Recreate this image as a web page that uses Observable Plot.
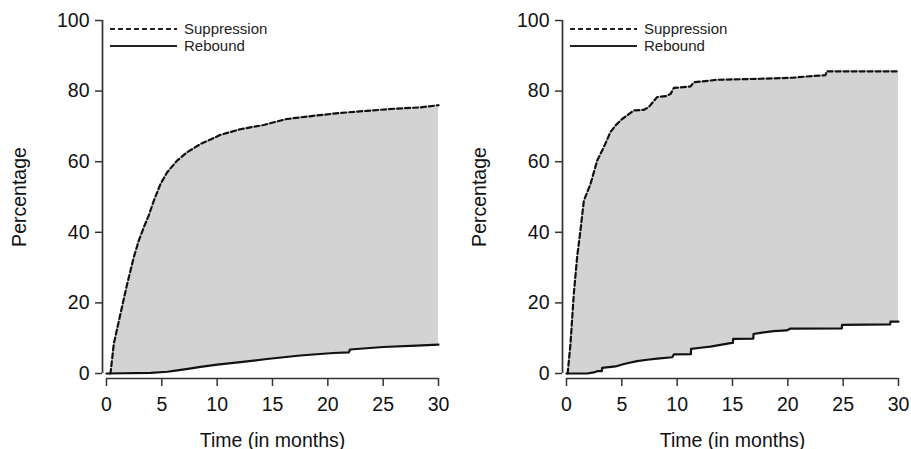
<!DOCTYPE html>
<html><head><meta charset="utf-8">
<script src="https://cdn.jsdelivr.net/npm/d3@7"></script>
<script src="https://cdn.jsdelivr.net/npm/@observablehq/plot@0.6"></script>
<style>body{margin:0;background:#fff}#c{display:flex;width:911px;height:449px}</style>
</head><body><div id="c"></div>
<script>
const xTicks = [0, 5, 10, 15, 20, 25, 30];
const yTicks = [0, 20, 40, 60, 80, 100];
const seriesNames = ["Suppression", "Rebound"];
const xLabel = "Time (in months)";
const yLabel = "Percentage";

// Left panel
const leftSuppT = [0.3,0.36,0.66,1.26,1.87,2.47,2.92,3.37,3.82,4.28,4.88,5.48,6.38,7.29,8.49,9.4,10.3,12.1,14.2,16.3,18.7,21.1,23.5,26,28.4,30];
const leftSuppP = [0,0,8.4,16.9,25.4,33,37.7,41.4,44.8,49,53.7,57,60.3,62.7,65,66.3,67.6,69.2,70.4,72.1,73.0,73.8,74.4,75,75.4,76];
const leftRebT = [0,4,5.5,6.4,7.5,8.5,10,12.1,14.5,17.5,20.5,21.9,22,25,28,30];
const leftRebP = [0,0.2,0.5,0.9,1.4,1.9,2.5,3.2,4.1,5.1,5.8,6.0,6.8,7.5,7.9,8.2];

// Right panel
const rightSuppT = [0.1,0.36,0.66,0.96,1.26,1.57,2.17,2.77,3.37,3.97,4.5,5.03,6.08,7.0,7.44,8.19,9.0,9.4,9.7,11.2,11.5,13.6,17.5,20.5,22.3,23.4,23.5,30];
const rightSuppP = [0,8.4,22.6,33,40.5,49,53.7,60.3,64.1,68.4,70.5,72.1,74.5,74.7,75.5,78.3,78.6,79.2,80.9,81.3,82.5,83.2,83.5,83.8,84.3,84.5,85.6,85.6];
const rightRebT = [0,1.87,2.47,2.77,3.2,3.22,4.43,5.03,5.48,6.38,7.29,8.19,9.55,9.7,11.24,11.26,12.1,13.0,13.9,14.8,15.04,15.06,16.88,16.9,17.5,18.7,19.9,20.2,24.88,24.9,29.25,29.27,30];
const rightRebP = [0,0,0.3,0.66,0.7,1.6,2.0,2.55,2.9,3.5,3.9,4.2,4.6,5.4,5.5,7.0,7.3,7.6,8.1,8.6,8.7,9.8,9.9,11.2,11.5,12.0,12.2,12.7,12.8,13.8,13.9,14.7,14.7];

const zip = (t, p) => t.map((d, i) => ({t: d, p: p[i]}));
const font = "'Liberation Sans', Arial, sans-serif";
const ink = "#111";
const dash = "5,3";

function legendMark(index, scales, values, dims) {
  const g = d3.create("svg:g").attr("font-family", font).attr("font-size", 15).attr("text-anchor", "start");
  const x0 = dims.marginLeft, y0 = dims.marginTop;
  [[seriesNames[0], dash, 9], [seriesNames[1], null, 26]].forEach(([lab, da, dy]) => {
    g.append("line").attr("x1", x0 + 4).attr("x2", x0 + 71).attr("y1", y0 + dy).attr("y2", y0 + dy)
      .attr("stroke", "#222").attr("stroke-width", 1.8).attr("stroke-dasharray", da);
    g.append("text").attr("x", x0 + 78).attr("y", y0 + dy).attr("dy", "0.35em").attr("fill", "#222").text(lab);
  });
  return g.node();
}

function panel({width, marginLeft, marginRight, supp, reb}) {
  return Plot.plot({
    width, height: 449, marginLeft, marginRight, marginTop: 20, marginBottom: 76,
    style: {fontFamily: font, fontSize: "19.5px", color: "#111", background: "#fff"},
    x: {domain: [0, 30]},
    y: {domain: [0, 100]},
    marks: [
      Plot.areaY(supp, {x: "t", y: "p", fill: "#d3d3d3"}),
      Plot.areaY(reb, {x: "t", y: "p", fill: "#fff"}),
      Plot.line(supp, {x: "t", y: "p", stroke: ink, strokeWidth: 2.2, strokeDasharray: dash}),
      Plot.line(reb, {x: "t", y: "p", stroke: ink, strokeWidth: 2.2}),
      Plot.ruleX([0], {y1: 0, y2: 100, dx: -4, stroke: "#333", strokeWidth: 1.7}),
      Plot.ruleY([0], {x1: 0, x2: 30, dy: 5, stroke: "#333", strokeWidth: 1.7}),
      Plot.axisY({ticks: yTicks, tickSize: 7, dx: -4, tickPadding: 6, fontSize: 19.5, stroke: "#333", strokeWidth: 1.5,
        label: yLabel, labelAnchor: "center", labelArrow: "none", labelOffset: 94}),
      Plot.axisX({ticks: xTicks, tickSize: 8, dy: 5, tickPadding: 11, fontSize: 19.5, stroke: "#333", strokeWidth: 1.5,
        label: xLabel, labelAnchor: "center", labelArrow: "none", labelOffset: 73}),
      legendMark
    ]
  });
}

const c = document.getElementById("c");
c.append(panel({width: 455, marginLeft: 106, marginRight: 17, supp: zip(leftSuppT, leftSuppP), reb: zip(leftRebT, leftRebP)}));
c.append(panel({width: 456, marginLeft: 111, marginRight: 13, supp: zip(rightSuppT, rightSuppP), reb: zip(rightRebT, rightRebP)}));
</script></body></html>
